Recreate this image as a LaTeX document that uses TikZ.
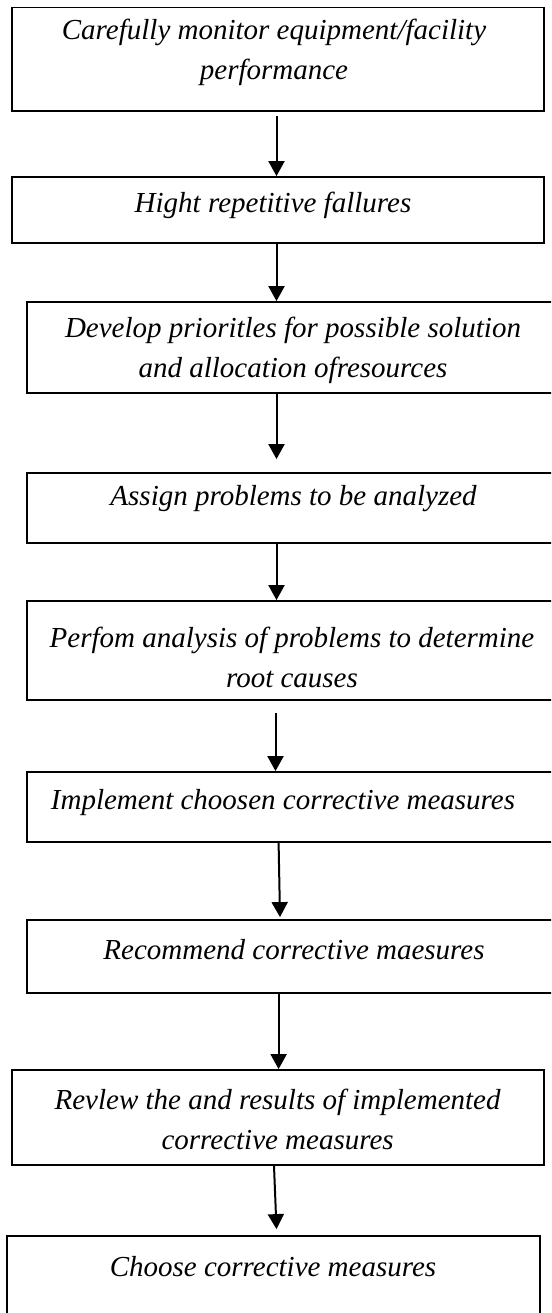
\documentclass[tikz,border=0pt]{standalone}
\usepackage{fontspec}
\setmainfont{Liberation Serif}
\usetikzlibrary{arrows.meta}
\begin{document}
\begin{tikzpicture}[x=1pt,y=-1pt,
  box/.style={draw=black, line width=1.8pt, rectangle, inner sep=0pt, fill=none},
  txt/.style={font=\fontsize{29}{40}\selectfont\itshape, align=center, inner sep=0pt},
  arr/.style={line width=2pt, -{Triangle[width=16pt,length=15pt]}}]
\useasboundingbox (0,0) rectangle (551,1313);
\fill[white] (0,0) rectangle (551,1313);
\clip (0,0) rectangle (551,1313);
% boxes
\node[box, minimum width=532pt, minimum height=103.5pt] (b1) at (278,59.25) {};
\node[box, minimum width=532pt, minimum height=66pt] (b2) at (278,210) {};
\node[box, minimum width=532pt, minimum height=91pt] (b3) at (293,347.5) {};
\node[box, minimum width=532pt, minimum height=70pt] (b4) at (293,508) {};
\node[box, minimum width=532pt, minimum height=99pt] (b5) at (293,650.5) {};
\node[box, minimum width=532pt, minimum height=70pt] (b6) at (293,807) {};
\node[box, minimum width=532pt, minimum height=73pt] (b7) at (293,956.5) {};
\node[box, minimum width=532pt, minimum height=95pt] (b8) at (278,1117.5) {};
\node[box, minimum width=533pt, minimum height=94pt] (b9) at (273.5,1283) {};
% texts
\node[txt] (t1) at (274,52.5) {Carefully monitor equipment/facility\\performance};
\node[txt] (t2) at (273,205) {Hight repetitive fallures};
\node[txt] (t3) at (293,350.5) {Develop prioritles for possible solution\\and allocation ofresources};
\node[txt] (t4) at (293.6,499) {Assign problems to be analyzed};
\node[txt] (t5) at (292,657) {Perfom analysis of problems to determine\\root causes};
\node[txt] (t6) at (283,803) {Implement choosen corrective measures};
\node[txt] (t7) at (294,950) {Recommend corrective maesures};
\node[txt] (t8) at (277.6,1119.5) {Revlew the and results of implemented\\corrective measures};
\node[txt] (t9) at (273,1267) {Choose corrective measures};
% arrows
\draw[arr] ([shift={(-1.5,4)}]b1.south) -- ([shift={(-1.5,0)}]b2.north);
\draw[arr] ([shift={(-1.5,0)}]b2.south) -- ([shift={(-16.5,0)}]b3.north);
\draw[arr] ([shift={(-16.5,0)}]b3.south) -- ([shift={(-16.5,-13)}]b4.north);
\draw[arr] ([shift={(-16.5,0)}]b4.south) -- ([shift={(-16.5,0)}]b5.north);
\draw[arr] ([shift={(-17.5,12)}]b5.south) -- ([shift={(-17.5,0)}]b6.north);
\draw[arr] ([shift={(-14.4,0)}]b6.south) -- ([shift={(-13,-2)}]b7.north);
\draw[arr] ([shift={(-14.4,0)}]b7.south) -- ([shift={(0.6,0)}]b8.north);
\draw[arr] ([shift={(-4,0)}]b8.south) -- ([shift={(3,-6)}]b9.north);
\end{tikzpicture}
\end{document}
